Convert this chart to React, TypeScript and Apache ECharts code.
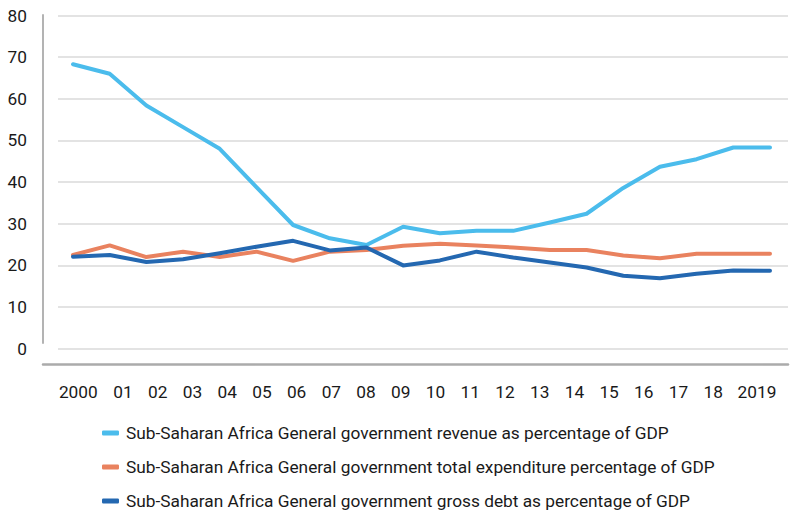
import React, { useEffect, useRef } from "react";
import * as echarts from "echarts";

const years = ["2000", "01", "02", "03", "04", "05", "06", "07", "08", "09", "10", "11", "12", "13", "14", "15", "16", "17", "18", "2019"];
const revenue = [68.3, 66.0, 58.4, 53.2, 48.0, 38.8, 29.7, 26.5, 24.9, 29.3, 27.7, 28.3, 28.3, 30.3, 32.4, 38.6, 43.7, 45.5, 48.3, 48.3];
const expenditure = [22.5, 24.8, 22.0, 23.3, 22.0, 23.3, 21.1, 23.3, 23.7, 24.7, 25.2, 24.8, 24.3, 23.7, 23.7, 22.4, 21.7, 22.8, 22.8, 22.8];
const debt = [22.1, 22.5, 20.8, 21.5, 22.9, 24.5, 25.9, 23.6, 24.3, 20.0, 21.2, 23.3, 21.9, 20.7, 19.5, 17.5, 16.9, 18.0, 18.75, 18.7];
const seriesNames = [
  "Sub-Saharan Africa General government revenue as percentage of GDP",
  "Sub-Saharan Africa General government total expenditure percentage of GDP",
  "Sub-Saharan Africa General government gross debt as percentage of GDP",
];
const colors = ["#4bbcec", "#e9825f", "#2468b1"];

export default function App() {
  const ref = useRef<HTMLDivElement>(null);
  useEffect(() => {
    if (!ref.current) return;
    const chart = echarts.init(ref.current, null, { renderer: "svg" });
    const font = "Roboto, 'Noto Sans', sans-serif";
    const labelStyle = { color: "#1a1a1a", fontSize: 17.3, fontFamily: font };
    chart.setOption({
      animation: false,
      textStyle: { fontFamily: font },
      grid: [
        { left: 73, right: 20, top: 15.5, bottom: 163.3 },
        { left: 58, right: 2, top: 15.5, bottom: 163.3 },
        { left: 43, right: 2, top: 300, bottom: 148 },
        { left: 88.3, right: 42, top: 300, bottom: 148 },
        { left: 43, right: 2, top: 15, bottom: 169 },
      ],
      xAxis: [
        { type: "category", gridIndex: 0, data: years, boundaryGap: false, show: false },
        { type: "value", gridIndex: 1, min: 0, max: 1, show: false },
        {
          type: "value", gridIndex: 2, min: 0, max: 1,
          axisLine: { show: true, lineStyle: { color: "#ababab", width: 2.5 } },
          axisTick: { show: false }, axisLabel: { show: false }, splitLine: { show: false },
        },
        {
          type: "category", gridIndex: 3, data: years, boundaryGap: false,
          axisLine: { show: false }, axisTick: { show: false }, splitLine: { show: false },
          axisLabel: {
            ...labelStyle, margin: 19, interval: 0,
            formatter: (v: string, idx: number) =>
              idx === 0 ? `{first|${v}}` : idx === years.length - 1 ? `{last|${v}}` : v,
            rich: {
              first: { ...labelStyle, padding: [0, 20, 0, 0] },
              last: { ...labelStyle, padding: [0, 0, 0, 18] },
            },
          },
        },
        { type: "value", gridIndex: 4, min: 0, max: 1, show: false },
      ],
      yAxis: [
        { type: "value", gridIndex: 0, min: 0, max: 80, interval: 10, show: false },
        {
          type: "value", gridIndex: 1, min: 0, max: 80, interval: 10,
          axisLine: { show: false },
          axisTick: { show: false },
          axisLabel: { ...labelStyle, margin: 31 },
          splitLine: { show: true, lineStyle: { color: "#e3e3e3", width: 2 } },
        },
        { type: "value", gridIndex: 2, show: false },
        { type: "value", gridIndex: 3, show: false },
        {
          type: "value", gridIndex: 4, min: 0, max: 1,
          axisLine: { show: true, lineStyle: { color: "#b3b3b3", width: 2 } },
          axisTick: { show: false }, axisLabel: { show: false }, splitLine: { show: false },
        },
      ],
      legend: {
        orient: "vertical",
        left: 102,
        top: 424,
        padding: 0,
        itemWidth: 17,
        itemHeight: 5,
        itemGap: 16,
        icon: "roundRect",
        textStyle: { ...labelStyle, lineHeight: 18, padding: [0, 0, 0, 2] },
        data: seriesNames,
      },
      series: [revenue, expenditure, debt].map((d, i) => ({
        name: seriesNames[i],
        type: "line",
        xAxisIndex: 0,
        yAxisIndex: 0,
        data: d,
        showSymbol: false,
        symbol: "none",
        color: colors[i],
        lineStyle: { color: colors[i], width: 4, cap: "round", join: "round" },
        z: 3 + i,
      })),
    });
    return () => chart.dispose();
  }, []);
  return <div ref={ref} style={{ width: 790, height: 512, position: "absolute", left: 0, top: 0 }} />;
}
